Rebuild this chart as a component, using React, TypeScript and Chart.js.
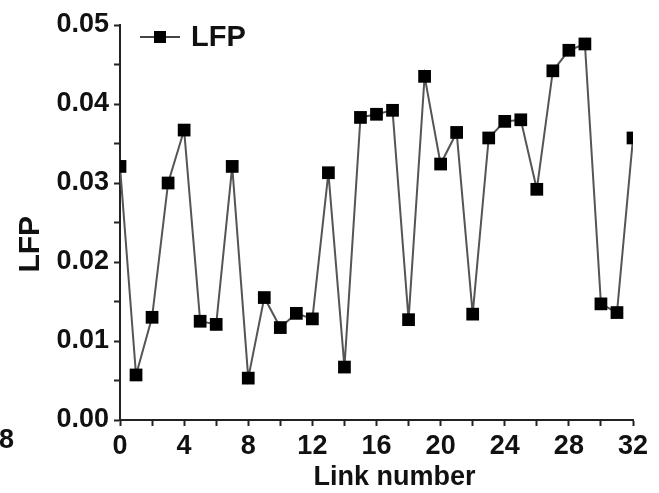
import React, { useEffect, useRef } from "react";
import { Chart, registerables } from "chart.js";

Chart.register(...registerables);

const linkNumbers = [0,1,2,3,4,5,6,7,8,9,10,11,12,13,14,15,16,17,18,19,20,21,22,23,24,25,26,27,28,29,30,31,32];
const lfpValues = [
  0.0321, 0.0057, 0.0130, 0.0300, 0.0367, 0.0125, 0.0121, 0.0321, 0.0053, 0.0155,
  0.0117, 0.0135, 0.0128, 0.0313, 0.0067, 0.0383, 0.0387, 0.0392, 0.0127, 0.0435,
  0.0324, 0.0364, 0.0134, 0.0357, 0.0378, 0.0380, 0.0292, 0.0442, 0.0468, 0.0476,
  0.0147, 0.0136, 0.0357,
];
const seriesName = "LFP";
const xTitle = "Link number";
const yTitle = "LFP";

const FONT = "Liberation Sans, Arial, sans-serif";

const overlayPlugin = {
  id: "overlay",
  afterDraw(chart: any) {
    const ctx = chart.ctx;
    const ca = chart.chartArea;
    ctx.save();
    ctx.fillStyle = "#111";
    // x title
    ctx.font = `bold 27px ${FONT}`;
    ctx.textAlign = "center";
    ctx.textBaseline = "alphabetic";
    ctx.fillText(xTitle, ca.left + (ca.right - ca.left) * 0.535, ca.bottom + 65);
    // y title
    ctx.save();
    ctx.translate(31, ca.top + (ca.bottom - ca.top) * 0.555);
    ctx.rotate(-Math.PI / 2);
    ctx.font = `bold 30px ${FONT}`;
    ctx.textBaseline = "middle";
    ctx.fillText(yTitle, 0, 0);
    ctx.restore();
    // legend
    const ly = ca.top + 12;
    ctx.strokeStyle = "#444";
    ctx.lineWidth = 2;
    ctx.beginPath();
    ctx.moveTo(ca.left + 20, ly);
    ctx.lineTo(ca.left + 60, ly);
    ctx.stroke();
    ctx.fillStyle = "#000";
    ctx.fillRect(ca.left + 40 - 6, ly - 6, 12, 12);
    ctx.fillStyle = "#111";
    ctx.font = `bold 29px ${FONT}`;
    ctx.textAlign = "left";
    ctx.textBaseline = "middle";
    ctx.fillText(seriesName, ca.left + 71, ly + 1);
    // cropped neighbour label
    ctx.font = `bold 27px ${FONT}`;
    ctx.textAlign = "right";
    ctx.fillText("8", 14, ca.bottom + 21);
    ctx.restore();
  },
};

export default function App() {
  const ref = useRef<HTMLCanvasElement | null>(null);
  useEffect(() => {
    if (!ref.current) return;
    const chart = new Chart(ref.current, {
      type: "line",
      data: {
        datasets: [
          {
            label: seriesName,
            data: linkNumbers.map((x, i) => ({ x, y: lfpValues[i] })),
            borderColor: "#555",
            borderWidth: 2,
            pointStyle: "rect",
            pointRadius: 9,
            pointBackgroundColor: "#000",
            pointBorderColor: "#000",
            pointBorderWidth: 0,
            tension: 0,
          },
        ],
      },
      options: {
        animation: false,
        responsive: false,
        layout: { padding: { top: 25, right: 26, left: 0, bottom: 0 } },
        plugins: { legend: { display: false }, tooltip: { enabled: false } },
        scales: {
          x: {
            type: "linear",
            min: 0,
            max: 32,
            afterFit: (s: any) => { s.height = 73; },
            border: { display: true, color: "#222", width: 2 },
            grid: { display: true, drawOnChartArea: false, drawTicks: true, tickLength: 6, tickColor: "#222", tickWidth: 2 },
            ticks: {
              stepSize: 2,
              autoSkip: false,
              maxRotation: 0,
              padding: 4,
              color: "#111",
              font: { family: FONT, size: 27, weight: "bold" },
              callback: (v: any) => (Math.round(v) % 4 === 0 ? String(v) : ""),
            },
          },
          y: {
            min: 0,
            max: 0.05,
            afterFit: (s: any) => { s.width = 120; },
            border: { display: true, color: "#222", width: 2 },
            grid: { display: true, drawOnChartArea: false, drawTicks: true, tickLength: 6, tickColor: "#222", tickWidth: 2 },
            ticks: {
              stepSize: 0.005,
              autoSkip: false,
              padding: 5,
              color: "#111",
              font: { family: FONT, size: 27, weight: "bold" },
              callback: (v: any) => (Math.round(v * 1000) % 10 === 0 ? Number(v).toFixed(2) : ""),
            },
          },
        },
      },
      plugins: [overlayPlugin],
    } as any);
    return () => chart.destroy();
  }, []);
  return (
    <div style={{ position: "fixed", left: 0, top: 0, width: 659, height: 493, background: "#fff" }}>
      <canvas ref={ref} width={659} height={493} style={{ width: 659, height: 493, display: "block" }} />
    </div>
  );
}
